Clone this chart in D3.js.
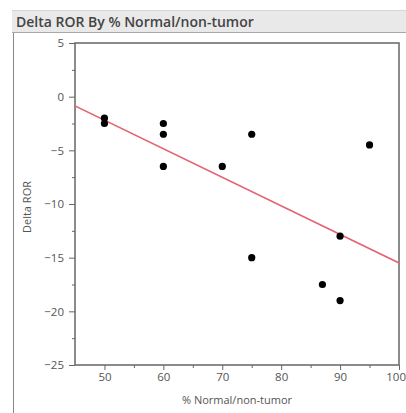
<!DOCTYPE html>
<html>
<head>
<meta charset="utf-8">
<script src="https://cdn.jsdelivr.net/npm/d3@7"></script>
<style>
  body { margin: 0; background: #fff; }
  text { font-family: "Open Sans", sans-serif; }
</style>
</head>
<body>
<div id="fig"></div>
<script>
const fig_width = 406
const fig_height = 413

// values
const pct_normal = [50, 50, 60, 60, 60, 70, 75, 75, 87, 90, 90, 95]
const delta_ror = [-2, -2.5, -2.5, -3.5, -6.5, -6.5, -3.5, -15, -17.5, -13, -19, -4.5]
const x_ticks = [50, 60, 70, 80, 90, 100]
const x_minor = [55, 65, 75, 85, 95]
const y_ticks = [5, 0, -5, -10, -15, -20, -25]
const y_minor = [2.5, -2.5, -7.5, -12.5, -17.5, -22.5]

const title = 'Delta ROR By % Normal/non-tumor'
const x_title = '% Normal/non-tumor'
const y_title = 'Delta ROR'

const margin = {left: 75, right: 7, top: 43, bottom: 48}

let svg = d3.select('#fig')
    .append('svg')
    .attr('width', fig_width)
    .attr('height', fig_height)

// title bar
svg.append('rect')
    .attr('x', 12).attr('y', 10)
    .attr('width', fig_width - 12).attr('height', 23)
    .attr('fill', '#e9e9e9')
svg.append('line')
    .attr('x1', 12).attr('x2', fig_width)
    .attr('y1', 10.5).attr('y2', 10.5)
    .attr('stroke', '#d6d6d6')
svg.append('line')
    .attr('x1', 12).attr('x2', fig_width)
    .attr('y1', 32.5).attr('y2', 32.5)
    .attr('stroke', '#a8a8a8')
svg.append('text')
    .attr('x', 16).attr('y', 27)
    .attr('font-size', 14)
    .attr('font-weight', 600)
    .attr('fill', '#444')
    .text(title)

// outline on the left of the panel
svg.append('line')
    .attr('x1', 13.5).attr('x2', 13.5)
    .attr('y1', 33).attr('y2', fig_height)
    .attr('stroke', '#888')

let x = d3.scaleLinear()
    .domain([45, 100])
    .range([margin.left, fig_width - margin.right])
let y = d3.scaleLinear()
    .domain([-25, 5])
    .range([fig_height - margin.bottom, margin.top])

// axes
let xAxis = svg.append('g')
    .attr('transform', `translate(0,${y(-25)})`)
    .call(d3.axisBottom(x).tickValues(x_ticks).tickSize(5).tickPadding(3))
svg.append('g')
    .attr('transform', `translate(0,${y(-25)})`)
    .call(d3.axisBottom(x).tickValues(x_minor).tickSize(3).tickFormat(''))
svg.append('g')
    .attr('transform', `translate(${x(45)},0)`)
    .call(d3.axisLeft(y).tickValues(y_ticks).tickSize(6).tickPadding(5))
svg.append('g')
    .attr('transform', `translate(${x(45)},0)`)
    .call(d3.axisLeft(y).tickValues(y_minor).tickSize(3).tickFormat(''))

svg.selectAll('.domain').remove()
svg.selectAll('.tick line').attr('stroke', '#666')
svg.selectAll('.tick text')
    .attr('font-family', 'Lato, sans-serif')
    .attr('font-size', 11.5)
    .attr('fill', '#555')

// the last x label sits against the window edge, as in the original
xAxis.selectAll('.tick text')
    .filter(d => d === 100)
    .attr('text-anchor', 'end')
    .attr('x', fig_width - x(100) - 0.5)

// plot frame
svg.append('rect')
    .attr('x', x(45)).attr('y', y(5))
    .attr('width', x(100) - x(45))
    .attr('height', y(-25) - y(5))
    .attr('fill', 'none')
    .attr('stroke', '#666')
    .attr('stroke-width', 1.5)

svg.append('text')
    .attr('x', (x(45) + x(100)) / 2)
    .attr('y', 404)
    .attr('text-anchor', 'middle')
    .attr('font-family', 'Lato, sans-serif')
    .attr('font-size', 11)
    .attr('fill', '#555')
    .text(x_title)

svg.append('text')
    .attr('transform', `translate(31,${(y(5) + y(-25)) / 2 + 3}) rotate(-90)`)
    .attr('text-anchor', 'middle')
    .attr('font-family', 'Lato, sans-serif')
    .attr('font-size', 11)
    .attr('fill', '#555')
    .text(y_title)

// least squares fit through the points
let points = pct_normal.map((p, i) => ({x: p, y: delta_ror[i]}))
let mx = d3.mean(points, d => d.x)
let my = d3.mean(points, d => d.y)
let slope = d3.sum(points, d => (d.x - mx) * (d.y - my)) / d3.sum(points, d => (d.x - mx) ** 2)
let fit = xv => my + slope * (xv - mx)

svg.append('clipPath').attr('id', 'clip')
    .append('rect')
    .attr('x', x(45)).attr('y', y(5))
    .attr('width', x(100) - x(45))
    .attr('height', y(-25) - y(5))
let plot = svg.append('g').attr('clip-path', 'url(#clip)')

plot.append('line')
    .attr('x1', x(45)).attr('y1', y(fit(45)))
    .attr('x2', x(100)).attr('y2', y(fit(100)))
    .attr('stroke', '#e36473')
    .attr('stroke-width', 1.6)

plot.selectAll('circle.pt')
    .data(points)
    .join('circle')
    .attr('class', 'pt')
    .attr('cx', d => x(d.x))
    .attr('cy', d => y(d.y))
    .attr('r', 3.6)
    .attr('fill', '#000')
</script>
</body>
</html>
